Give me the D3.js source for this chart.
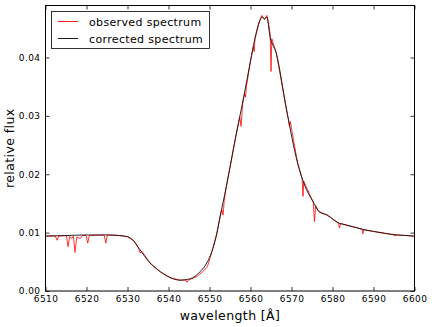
<!DOCTYPE html>
<html>
<head>
<meta charset="utf-8">
<script src="https://cdn.jsdelivr.net/npm/d3@7"></script>
<style>
  body { margin: 0; background: #fff; }
  text { font-family: "DejaVu Sans", sans-serif; }
</style>
</head>
<body>
<script>
const width = 432;
const height = 327;

// corrected spectrum (black)
const corrWave = [6510, 6512, 6515, 6520, 6525, 6528, 6530, 6531.5, 6533, 6535.5, 6538, 6540.4, 6542.8,
  6545.3, 6547.7, 6549.5, 6550.5, 6551.8, 6552.6, 6554, 6555, 6556.5, 6558.2, 6560, 6561, 6562.2,
  6562.8, 6563.4, 6564, 6564.7, 6566.3, 6568.8, 6571.5, 6573, 6575.5, 6576.7, 6578.7, 6581.6, 6582.8,
  6585, 6587.7, 6590, 6592.6, 6595.8, 6598, 6600];
const corrFlux = [0.00943, 0.00945, 0.0095, 0.0096, 0.0096, 0.0095, 0.0093, 0.0086, 0.0071, 0.0048, 0.0033, 0.0023, 0.00185,
  0.0021, 0.0033, 0.0050, 0.0066, 0.0099, 0.0128, 0.0175, 0.0212, 0.0268, 0.0327, 0.0394, 0.0430, 0.0462,
  0.0469, 0.0466, 0.0469, 0.0438, 0.0407, 0.0310, 0.0219, 0.0185, 0.0150, 0.0136, 0.0130, 0.0116, 0.0114,
  0.0110, 0.0105, 0.0102, 0.0099, 0.0096, 0.0095, 0.0094];

// observed spectrum (red), with the telluric dips
const obsWave = [6510, 6512.4, 6512.8, 6513.2, 6515.1, 6515.5, 6515.9, 6516.4, 6516.8, 6517.2, 6517.6, 6518.5,
  6519, 6519.9, 6520.3, 6520.7, 6524.3, 6524.7, 6525.1, 6528, 6530, 6531.5, 6532.7, 6533.1, 6533.5,
  6535.5, 6538, 6540.4, 6542.8, 6544.2, 6544.5, 6544.9, 6546, 6547, 6548.3, 6548.8, 6549.5, 6550.2,
  6551, 6551.8, 6552.6, 6553, 6553.3, 6553.6, 6554, 6555, 6556.5, 6557.4, 6557.7, 6558, 6558.2, 6558.6,
  6558.8, 6559, 6560, 6560.7, 6560.9, 6561.1, 6562.2, 6562.8, 6563.4, 6564, 6564.5, 6564.8, 6565.0,
  6565.2, 6566.3, 6568.8, 6569.3, 6569.5, 6569.7, 6571.5, 6572.6, 6572.8, 6573, 6575.3, 6575.6, 6575.9,
  6576.7, 6578.7, 6581.4, 6581.7, 6582, 6582.8, 6585, 6587.2, 6587.4, 6587.6, 6590, 6592.6, 6595,
  6595.2, 6595.5, 6598, 6599.7, 6600];
const obsFlux = [0.0094, 0.0094, 0.0087, 0.0094, 0.0095, 0.0076, 0.0093, 0.0090, 0.0094, 0.0066, 0.0092, 0.0090,
  0.0095, 0.0095, 0.0082, 0.0095, 0.0096, 0.0082, 0.0096, 0.0095, 0.0093, 0.0086, 0.0073, 0.0065, 0.0068,
  0.0048, 0.0033, 0.0023, 0.00185, 0.0019, 0.0015, 0.0019, 0.0022, 0.0025, 0.0033, 0.0036, 0.0042, 0.0058,
  0.0078, 0.0099, 0.0128, 0.0140, 0.0130, 0.0155, 0.0175, 0.0212, 0.0268, 0.0298, 0.0282, 0.0312, 0.0327, 0.0338,
  0.0332, 0.0350, 0.0394, 0.0418, 0.0410, 0.0432, 0.0462, 0.0472, 0.0465, 0.0472, 0.0455, 0.0440, 0.0376,
  0.0432, 0.0407, 0.0310, 0.0292, 0.0282, 0.0290, 0.0219, 0.0192, 0.0162, 0.0188, 0.0152, 0.0119, 0.0146,
  0.0136, 0.0130, 0.0117, 0.0108, 0.0116, 0.0114, 0.0110, 0.0106, 0.0098, 0.0105, 0.0102, 0.0099, 0.0096,
  0.0094, 0.0096, 0.0095, 0.0094, 0.0092];

const xTicks = [6510, 6520, 6530, 6540, 6550, 6560, 6570, 6580, 6590, 6600];
const yTicks = [0.00, 0.01, 0.02, 0.03, 0.04];
const legendLabels = ["observed spectrum", "corrected spectrum"];
const legendColors = ["#ff0000", "#000000"];

const margin = {left: 45.5, right: 17.5, top: 5.5, bottom: 36};

const x = d3.scaleLinear().domain([6510, 6600]).range([margin.left, width - margin.right]);
const y = d3.scaleLinear().domain([0, 0.0489]).range([height - margin.bottom, margin.top]);

const svg = d3.select('body').append('svg')
    .attr('width', width)
    .attr('height', height);

svg.append('clipPath').attr('id', 'clip')
  .append('rect')
    .attr('x', margin.left).attr('y', margin.top)
    .attr('width', width - margin.left - margin.right)
    .attr('height', height - margin.top - margin.bottom);

const obs = obsWave.map((w, i) => ({w: w, f: obsFlux[i]}));
const corr = corrWave.map((w, i) => ({w: w, f: corrFlux[i]}));

const lineObs = d3.line().x(d => x(d.w)).y(d => y(d.f));
const lineCorr = d3.line().x(d => x(d.w)).y(d => y(d.f)).curve(d3.curveMonotoneX);

const plot = svg.append('g').attr('clip-path', 'url(#clip)');
plot.append('path')
    .datum(obs)
    .attr('d', lineObs)
    .style('fill', 'none')
    .style('stroke', '#ff0000')
    .style('stroke-width', 0.8);
plot.append('path')
    .datum(corr)
    .attr('d', lineCorr)
    .style('fill', 'none')
    .style('stroke', '#1a0a0a')
    .style('stroke-width', 0.9);

// axes: ticks inside on all four sides, like matplotlib classic
const x0 = margin.left, x1 = width - margin.right;
const y0 = height - margin.bottom, y1 = margin.top;

svg.append('g').attr('transform', `translate(0,${y0})`)
    .call(d3.axisBottom(x).tickValues(xTicks).tickSizeInner(-4).tickSizeOuter(0).tickPadding(5).tickFormat(d3.format('d')));
svg.append('g').attr('transform', `translate(0,${y1})`)
    .call(d3.axisTop(x).tickValues(xTicks).tickSizeInner(-4).tickSizeOuter(0).tickFormat(''));
svg.append('g').attr('transform', `translate(${x0},0)`)
    .call(d3.axisLeft(y).tickValues(yTicks).tickSizeInner(-4).tickSizeOuter(0).tickPadding(5).tickFormat(d3.format('.2f')));
svg.append('g').attr('transform', `translate(${x1},0)`)
    .call(d3.axisRight(y).tickValues(yTicks).tickSizeInner(-4).tickSizeOuter(0).tickFormat(''));

svg.selectAll('.domain').remove();
svg.selectAll('.tick line').style('stroke', '#000').style('stroke-width', 0.8);
svg.selectAll('.tick text')
    .style('font-size', '9px')
    .style('letter-spacing', '0.4px')
    .style('fill', '#000');

svg.append('rect')
    .attr('x', x0).attr('y', y1)
    .attr('width', x1 - x0).attr('height', y0 - y1)
    .style('fill', 'none')
    .style('stroke', '#000')
    .style('stroke-width', 1);

svg.append('text')
    .attr('x', (x0 + x1) / 2)
    .attr('y', 320)
    .attr('text-anchor', 'middle')
    .style('font-size', '12.5px')
    .style('letter-spacing', '0.4px')
    .text('wavelength [Å]');

svg.append('text')
    .attr('transform', `translate(14,${(y0 + y1) / 2}) rotate(-90)`)
    .attr('text-anchor', 'middle')
    .style('font-size', '12.5px')
    .style('letter-spacing', '0.4px')
    .text('relative flux');

// legend
const legend = svg.append('g');
legend.append('rect')
    .attr('x', 51.5).attr('y', 11.5)
    .attr('width', 158).attr('height', 37)
    .style('fill', '#fff')
    .style('stroke', '#000')
    .style('stroke-width', 0.8);
legendLabels.forEach((lab, i) => {
    const ly = 21.5 + i * 17;
    legend.append('line')
        .attr('x1', 58).attr('x2', 78)
        .attr('y1', ly).attr('y2', ly)
        .style('stroke', legendColors[i])
        .style('stroke-width', 0.9);
    legend.append('text')
        .attr('x', 89).attr('y', ly + 4)
        .style('font-size', '11px')
        .style('letter-spacing', '0.35px')
        .text(lab);
});
</script>
</body>
</html>
